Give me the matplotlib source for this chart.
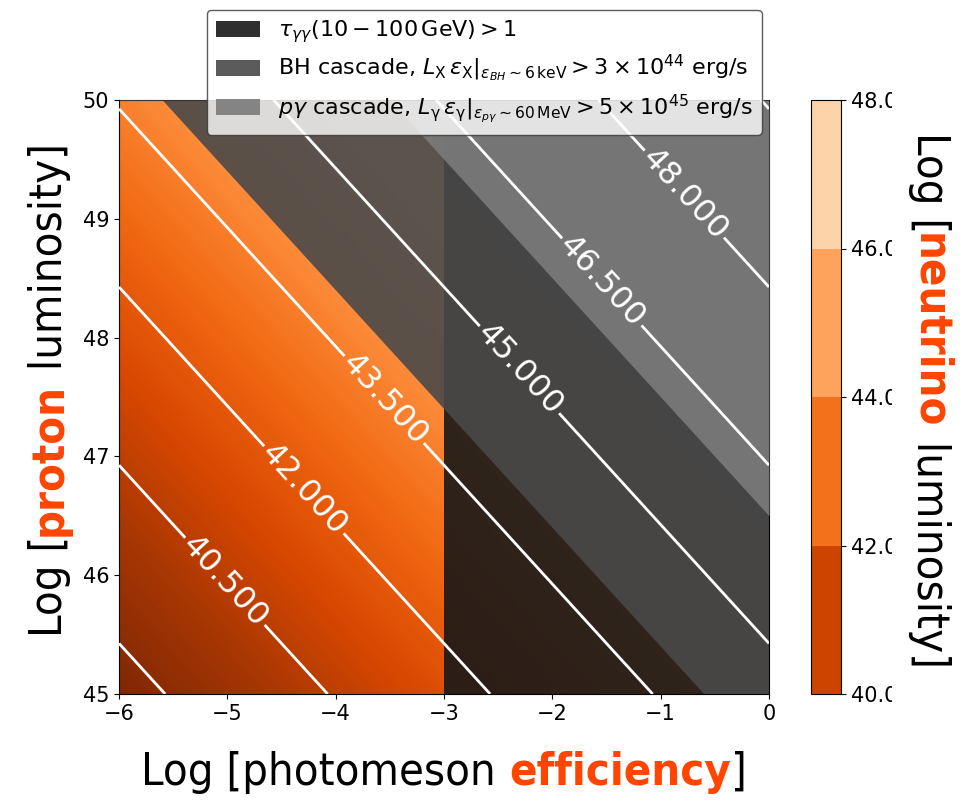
import numpy as np
import matplotlib
matplotlib.use('Agg')
import matplotlib.pyplot as plt
from matplotlib.patches import Patch, Rectangle
from matplotlib.colors import ListedColormap, BoundaryNorm, Normalize
from matplotlib.cm import ScalarMappable

# ---- data ----
log_eff = np.linspace(-6, 0, 601)       # Log photomeson efficiency
log_lp = np.linspace(45, 50, 501)       # Log proton luminosity
nu_fraction = 3.0 / 8.0                 # L_nu = 3/8 f_pg L_p

contour_levels = [39.0, 40.5, 42.0, 43.5, 45.0, 46.5, 48.0, 49.5]
label_spots = [(-4.96, 46.00), (-4.28, 46.73), (-3.55, 47.48),
               (-2.28, 47.75), (-1.53, 48.48), (-0.755, 49.23)]
cbar_levels = [40, 42, 44, 46, 48]

tau_eff_min = -3.0      # tau_gg > 1 for log eff > -3
bh_sum_min = 44.4       # BH cascade bound on log eff + log Lp
pg_sum_min = 46.5       # p-gamma cascade bound on log eff + log Lp

region_labels = [
    r'$\tau_{\gamma\gamma}(10-100\,\mathrm{GeV})>1$',
    r'BH cascade, $L_{\mathrm{X}}\,\varepsilon_{\mathrm{X}}|_{\varepsilon_{BH}\sim6\,\mathrm{keV}}>3\times10^{44}$ erg/s',
    r'$p\gamma$ cascade, $L_{\mathrm{γ}}\,\varepsilon_{\mathrm{γ}}|_{\varepsilon_{p\gamma}\sim60\,\mathrm{MeV}}>5\times10^{45}$ erg/s',
]
region_colors = ['#181818', '#494949', '#7b7b7b']

W, H = 966, 802
HILITE = '#ff4500'
FAM, STRETCH = 'DejaVu Sans', 'condensed'   # narrow sans for axis labels

X, Y = np.meshgrid(log_eff, log_lp)
L_nu = X + Y + np.log10(nu_fraction)

fig = plt.figure(figsize=(W / 100, H / 100), dpi=100)
ax = fig.add_axes([119 / W, 108 / H, 650 / W, 594 / H])
cax = fig.add_axes([811 / W, 108 / H, 30 / W, 594 / H])

ax.pcolormesh(log_eff, log_lp, L_nu, cmap='Oranges_r', shading='auto',
              vmin=L_nu.min(), vmax=L_nu.max(), zorder=0, rasterized=True)

# excluded regions
ax.axvspan(tau_eff_min, 0, color=region_colors[0], alpha=0.9, lw=0, zorder=1)
ax.fill_between(log_eff, bh_sum_min - log_eff, 50, color=region_colors[1],
                alpha=0.9, lw=0, zorder=2)
ax.fill_between(log_eff, pg_sum_min - log_eff, 50, color=region_colors[2],
                alpha=0.9, lw=0, zorder=3)

ax.set_xlim(-6, 0)
ax.set_ylim(45, 50)
ax.set_xticks(range(-6, 1))
ax.set_yticks(range(45, 51))
ax.tick_params(labelsize=15)

cs = ax.contour(X, Y, L_nu, levels=contour_levels, colors='white',
                linewidths=2, zorder=4)
lbls = ax.clabel(cs, fmt='%.3f', fontsize=23, manual=label_spots,
                 inline=True, inline_spacing=3)
for t in lbls:
    t.set_zorder(5)

handles = [Patch(facecolor=c, alpha=0.9, edgecolor='none') for c in region_colors]
leg = ax.legend(handles, region_labels, loc='upper left',
                bbox_to_anchor=(0.135, 1.152), borderaxespad=0, fontsize=16,
                labelspacing=0.35, framealpha=0.8, edgecolor='0.2', fancybox=True)
leg.set_zorder(10)

# colorbar, discrete layers coloured like the map
mids = [(a + b) / 2 for a, b in zip(cbar_levels[:-1], cbar_levels[1:])]
band_colors = plt.cm.Oranges_r(Normalize(L_nu.min(), L_nu.max())(mids))
sm = ScalarMappable(norm=BoundaryNorm(cbar_levels, len(mids)),
                    cmap=ListedColormap(band_colors))
cb = fig.colorbar(sm, cax=cax, ticks=cbar_levels, format='%.1f')
cb.ax.tick_params(labelsize=15)

# white strip on the right edge cuts the colorbar tick labels
fig.patches.append(Rectangle((892 / W, 0), 1, 1, transform=fig.transFigure,
                             facecolor='white', edgecolor='none', zorder=5))


def rich_label(pieces, anchor, rotation, size=32.5):
    renderer = fig.canvas.get_renderer()
    kw = dict(fontsize=size, family=FAM, stretch=STRETCH)

    def width(s, weight):
        t1 = fig.text(0, 0, '|' + s + '|', weight=weight, **kw)
        t2 = fig.text(0, 0, '||', weight=weight, **kw)
        w = t1.get_window_extent(renderer).width - t2.get_window_extent(renderer).width
        t1.remove()
        t2.remove()
        return w

    widths = [width(s, wt) for s, wt, _ in pieces]
    total = sum(widths)
    d = {0: (1, 0), 90: (0, 1), 270: (0, -1)}[rotation]
    x0 = anchor[0] - d[0] * total / 2
    y0 = anchor[1] - d[1] * total / 2
    pos = 0
    for (s, wt, c), w in zip(pieces, widths):
        fig.text((x0 + d[0] * pos) / W, (y0 + d[1] * pos) / H, s, weight=wt,
                 color=c, rotation=rotation, rotation_mode='anchor',
                 ha='left', va='baseline', zorder=10, **kw)
        pos += w


rich_label([('Log [photomeson ', 'normal', 'black'),
            ('efficiency', 'bold', HILITE),
            (']', 'normal', 'black')], (444, 17), 0)
rich_label([('Log [', 'normal', 'black'),
            ('proton', 'bold', HILITE),
            (' luminosity]', 'normal', 'black')], (62, 412), 90)
rich_label([('Log [', 'normal', 'black'),
            ('neutrino', 'bold', HILITE),
            (' luminosity]', 'normal', 'black')], (917, 402), 270)

fig.savefig('out.png', dpi=100)
